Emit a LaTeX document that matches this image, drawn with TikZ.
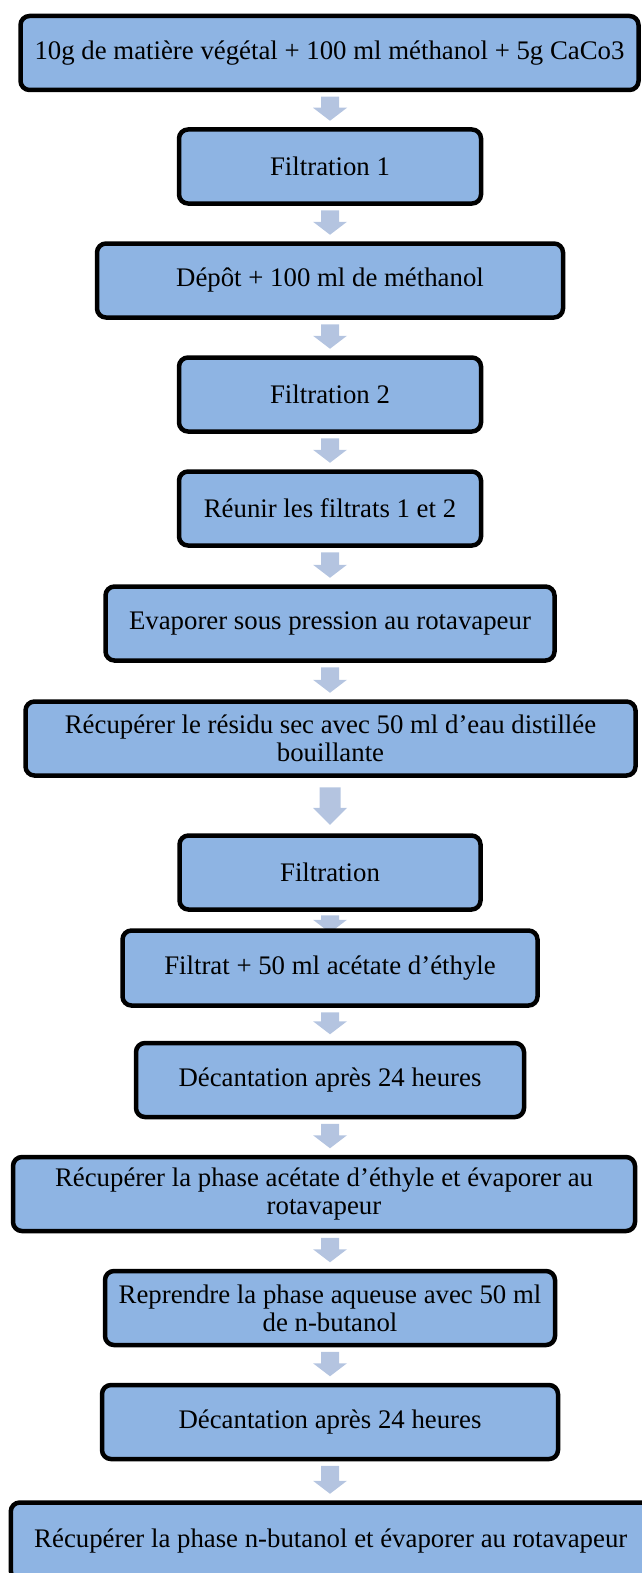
\documentclass[tikz,border=0pt]{standalone}
\usepackage{fontspec}
\setmainfont{Liberation Serif}
\usetikzlibrary{calc,backgrounds}
\definecolor{boxfill}{HTML}{8EB4E3}
\definecolor{arrowfill}{HTML}{B4C4E0}
\tikzset{
  stepbox/.style={draw=black, line width=4.5pt, fill=boxfill, rounded corners=9pt,
    minimum height=74pt, inner sep=0pt, align=center,
    font=\fontsize{26.8}{28}\selectfont},
}
% #1 from node, #2 to node, #3 gap below source, #4 gap above target, #5 head length, #6 shaft half width
\newcommand{\flowarrow}[6]{%
  \fill[arrowfill] let \p1=(#1.south), \p2=(#2.north) in
    ({330pt-#6pt},{\y1-#3pt}) -- ({330pt+#6pt},{\y1-#3pt})
    -- ({330pt+#6pt},{\y2+#4pt+#5pt}) -- (347pt,{\y2+#4pt+#5pt})
    -- (330pt,{\y2+#4pt}) -- (313pt,{\y2+#4pt+#5pt})
    -- ({330pt-#6pt},{\y2+#4pt+#5pt}) -- cycle;
}
\begin{document}
\begin{tikzpicture}[x=1pt,y=-1pt]
\useasboundingbox (0,0) rectangle (641,1573);
\node[stepbox, minimum width=618pt] (b1) at (329.5,53) {10g de matière végétal + 100 ml méthanol + 5g CaCo3};
\node[stepbox, minimum width=302pt] (b2) at (330,166.5) {Filtration 1};
\node[stepbox, minimum width=466pt] (b3) at (330,280.5) {Dépôt + 100 ml de méthanol};
\node[stepbox, minimum width=302pt] (b4) at (330,394.5) {Filtration 2};
\node[stepbox, minimum width=302pt] (b5) at (330,508.5) {Réunir les filtrats 1 et 2};
\node[stepbox, minimum width=449pt] (b6) at (330,623.5) {Evaporer sous pression au rotavapeur};
\node[stepbox, minimum width=610pt] (b7) at (330.5,738.5) {Récupérer le résidu sec avec 50 ml d’eau distillée\\ bouillante};
\node[stepbox, minimum width=301pt] (b8) at (330,872.5) {Filtration};
\node[stepbox, minimum width=415pt, minimum height=75pt] (b9) at (330,968) {Filtrat + 50 ml acétate d’éthyle};
\node[stepbox, minimum width=388pt] (b10) at (330,1080) {Décantation après 24 heures};
\node[stepbox, minimum width=622pt] (b11) at (324,1194) {Récupérer la phase acétate d’éthyle et évaporer au\\ rotavapeur};
\node[stepbox, minimum width=450pt] (b12) at (330,1308) {Reprendre la phase aqueuse avec 50 ml\\ de n-butanol};
\node[stepbox, minimum width=456pt] (b13) at (330,1422) {Décantation après 24 heures};
\node[stepbox, minimum width=640pt, minimum height=77pt] (b14) at (330.75,1541) {Récupérer la phase n-butanol et évaporer au rotavapeur};
\begin{pgfonlayer}{background}
\flowarrow{b1}{b2}{4.5}{6.5}{13}{9}
\flowarrow{b2}{b3}{4.5}{6.5}{13}{9}
\flowarrow{b3}{b4}{4.5}{6.5}{13}{9}
\flowarrow{b4}{b5}{4.5}{6.5}{13}{9}
\flowarrow{b5}{b6}{4.5}{6.5}{13}{9}
\flowarrow{b6}{b7}{4.5}{6.5}{13}{9}
\flowarrow{b7}{b8}{9.5}{8.5}{17}{10.5}
\flowarrow{b8}{b9}{3.5}{-4.5}{13}{9}
\flowarrow{b9}{b10}{4.5}{6.5}{13}{9}
\flowarrow{b10}{b11}{4.5}{6.5}{13}{9}
\flowarrow{b11}{b12}{4.5}{6.5}{13}{9}
\flowarrow{b12}{b13}{4.5}{6.5}{13}{9}
\flowarrow{b13}{b14}{4.5}{6.5}{13}{9}
\end{pgfonlayer}
\end{tikzpicture}
\end{document}
